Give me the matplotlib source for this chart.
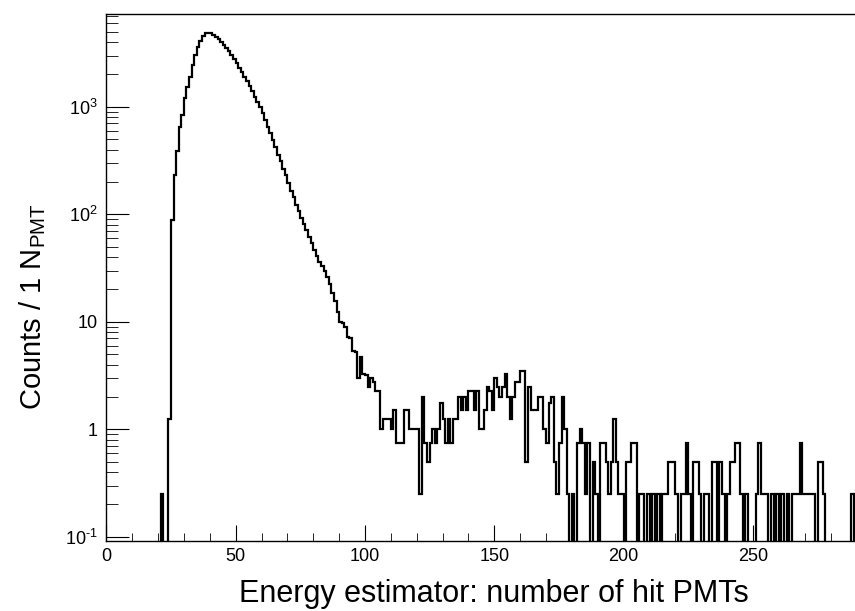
import numpy as np
import matplotlib
matplotlib.use("Agg")
import matplotlib.pyplot as plt
from matplotlib.ticker import FixedLocator, FixedFormatter, LogLocator, NullFormatter, MultipleLocator

plt.rcParams['font.family'] = ['Liberation Sans', 'DejaVu Sans']
plt.rcParams['mathtext.default'] = 'regular'
plt.rcParams['axes.unicode_minus'] = False

# histogram content, 1 N_PMT wide bins, first bin starts at N_PMT = 21
first_bin = 21
counts = [
    0.25, 0, 0, 1.25, 88, 232, 390, 645, 840, 1200,            # 21-30
    1540, 1900, 2440, 3020, 3610, 4110, 4580, 4820, 4880, 4850,  # 31-40
    4700, 4500, 4280, 4050, 3780, 3540, 3290, 3030, 2790, 2550,  # 41-50
    2320, 2110, 1910, 1730, 1560, 1400, 1240, 1100, 990, 870,    # 51-60
    760, 655, 565, 490, 420, 355, 310, 265, 230, 195,            # 61-70
    166, 145, 123, 107, 93, 81, 71, 62, 54, 47,                  # 71-80
    41, 36, 33, 29.5, 26.3, 22.4, 18.6, 15.5, 12.4, 10,          # 81-90
    9.8, 9.0, 7.2, 7.0, 5.3, 5.25, 3.0, 4.7, 3.3, 3.2,           # 91-100
    2.5, 3.0, 2.75, 2.25, 2.25, 1.0, 1.25, 1.25, 1.25, 1.0,      # 101-110
    1.5, 0.75, 0.75, 0.75, 1.5, 1.5, 1.0, 1.0, 1.0, 1.0,         # 111-120
    0.25, 2.0, 0.75, 0.5, 0.75, 1.0, 0.75, 1.0, 1.75, 1.25,      # 121-130
    0.75, 1.25, 0.75, 1.25, 1.25, 2.0, 1.5, 2.0, 1.5, 2.25,      # 131-140
    2.25, 1.5, 2.25, 1.0, 1.0, 1.5, 2.5, 2.25, 1.5, 3.0,         # 141-150
    2.5, 2.0, 2.5, 3.25, 2.0, 1.25, 2.0, 2.75, 2.75, 3.5,        # 151-160
    3.5, 0.5, 2.5, 1.5, 1.5, 1.5, 2.0, 2.0, 1.0, 0.75,           # 161-170
    1.75, 2.0, 0.5, 0.25, 0.75, 2.0, 1.0, 0.25, 0, 0.25,         # 171-180
    0, 0.75, 1.0, 0.75, 0.25, 0.75, 0, 0.5, 0.25, 0,             # 181-190
    0.75, 0.75, 0.5, 0.25, 0.5, 1.25, 0.5, 0.25, 0.25, 0,        # 191-200
    0.5, 0.5, 0.75, 0.75, 0, 0.25, 0.25, 0, 0.25, 0,             # 201-210
    0.25, 0, 0.25, 0, 0.25, 0.25, 0.5, 0.5, 0.5, 0.25,           # 211-220
    0, 0.25, 0.25, 0.75, 0.25, 0, 0.5, 0.5, 0.25, 0,             # 221-230
    0.25, 0.25, 0, 0.5, 0.5, 0, 0.5, 0.25, 0, 0.25,              # 231-240
    0.5, 0.5, 0.75, 0.75, 0.25, 0, 0.25, 0, 0, 0,                # 241-250
    0.25, 0.75, 0.25, 0.25, 0.25, 0, 0.25, 0, 0.25, 0,           # 251-260
    0.25, 0, 0.25, 0, 0.25, 0.25, 0.25, 0.75, 0.25, 0.25,        # 261-270
    0.25, 0.25, 0.25, 0, 0.5, 0.5, 0.25, 0, 0, 0,                # 271-280
    0, 0, 0, 0, 0, 0, 0, 0.25,                                   # 281-288
]

x_min, x_max = 0, 300
y_min, y_max = 0.0914, 7300

xtick_vals = [0, 50, 100, 150, 200, 250]
ytick_vals = [0.1, 1, 10, 100, 1000]
ytick_labels = ['$10^{\u20101}$', '1', '10', '$10^{2}$', '$10^{3}$']

values = np.zeros(x_max - x_min)
values[first_bin:first_bin + len(counts)] = counts
edges = np.arange(x_min, x_max + 1)

fig = plt.figure(figsize=(8.55, 6.11), dpi=100)
ax = fig.add_axes([106.3 / 855, (611 - 541) / 611, 776 / 855, (541 - 14) / 611])

ax.stairs(values, edges, color='black', linewidth=1.6)

ax.set_yscale('log')
ax.set_xlim(x_min, x_max)
ax.set_ylim(y_min, y_max)

ax.yaxis.set_major_locator(FixedLocator(ytick_vals))
ax.yaxis.set_major_formatter(FixedFormatter(ytick_labels))
ax.yaxis.set_minor_locator(LogLocator(base=10, subs=np.arange(2, 10)))
ax.yaxis.set_minor_formatter(NullFormatter())
ax.xaxis.set_major_locator(FixedLocator(xtick_vals))
ax.xaxis.set_minor_locator(MultipleLocator(10))

ax.tick_params(which='both', direction='in', top=False, right=False, colors='black', labelsize=13)
ax.tick_params(axis='y', which='major', length=16.6, pad=6)
ax.tick_params(axis='y', which='minor', length=8.3)
ax.tick_params(axis='x', which='major', length=11.5, pad=5)
ax.tick_params(axis='x', which='minor', length=5.8)
for s in ax.spines.values():
    s.set_linewidth(1.0)

ax.set_xlabel('Energy estimator: number of hit PMTs', fontsize=22, labelpad=10)
ax.set_ylabel('Counts / 1 N$_{PMT}$', fontsize=21)
ax.yaxis.set_label_coords(-0.075, 0.445)

fig.savefig('out.png', dpi=100)
